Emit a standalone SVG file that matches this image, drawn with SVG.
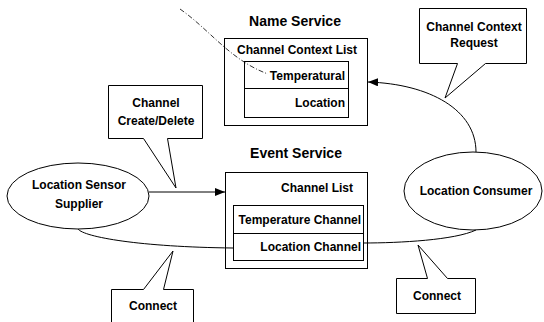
<svg xmlns="http://www.w3.org/2000/svg" width="544" height="322" viewBox="0 0 544 322">
  <style>
    .box { fill: none; stroke: #000; stroke-width: 1; }
    .shape { fill: #fff; stroke: #000; stroke-width: 1; }
    .wire { fill: none; stroke: #000; stroke-width: 1; }
    .dash { fill: none; stroke: #333; stroke-width: 1; stroke-dasharray: 5 2 1 2; }
    text { font-family: "Liberation Sans", Arial, sans-serif; font-weight: bold; font-size: 12px; fill: #000; }
    .title { font-size: 14px; }
    .mid { text-anchor: middle; }
    .end { text-anchor: end; }
  </style>
  <defs>
    <marker id="arrow" viewBox="0 0 10 8" refX="10" refY="4" markerWidth="10" markerHeight="8" markerUnits="userSpaceOnUse" orient="auto">
      <path d="M0,0 L10,4 L0,8 Z" fill="#000"/>
    </marker>
  </defs>

  <rect width="544" height="322" fill="#fff"/>

  <!-- connectors -->
  <g id="connectors">
    <path class="wire" d="M149 192 L225 192" marker-end="url(#arrow)"/>
    <path class="wire" d="M476 152 C476 110 430 84 368 82" marker-end="url(#arrow)"/>
    <path class="wire" d="M78 229 C84 237 140 247 233 248"/>
    <path class="wire" d="M363 243 C400 243 455 240 476 230"/>
    <path class="dash" d="M180 9 C210 30 230 60 268 74"/>
  </g>

  <!-- name service -->
  <g id="name-service">
    <text class="title mid" x="295" y="26">Name Service</text>
    <rect class="box" x="224.5" y="38.5" width="143" height="87"/>
    <text class="mid" x="297" y="54">Channel Context List</text>
    <rect class="box" x="244.5" y="61.5" width="104" height="56"/>
    <line class="box" x1="244.5" y1="88.5" x2="348.5" y2="88.5"/>
    <text class="end" x="345" y="80">Temperatural</text>
    <text class="end" x="345" y="107">Location</text>
  </g>

  <!-- event service -->
  <g id="event-service">
    <text class="title mid" x="296" y="158">Event Service</text>
    <rect class="box" x="225.5" y="172.5" width="142" height="96"/>
    <text class="end" x="353" y="192">Channel List</text>
    <rect class="box" x="233.5" y="205.5" width="130" height="55"/>
    <line class="box" x1="233.5" y1="233.5" x2="363.5" y2="233.5"/>
    <text class="end" x="361" y="224">Temperature Channel</text>
    <text class="end" x="361" y="251">Location Channel</text>
  </g>

  <!-- supplier -->
  <g id="supplier">
    <ellipse class="shape" cx="78" cy="196" rx="71" ry="33"/>
    <text class="mid" x="79" y="189">Location Sensor</text>
    <text class="mid" x="79" y="208">Supplier</text>
  </g>

  <!-- consumer -->
  <g id="consumer">
    <ellipse class="shape" cx="473" cy="191" rx="69" ry="39"/>
    <text class="mid" x="476" y="195">Location Consumer</text>
  </g>

  <!-- callouts -->
  <g id="callout-create">
    <path class="shape" d="M108.5 85.5 H202.5 V138.5 H167.5 L176 188 L143.5 138.5 H108.5 Z"/>
    <text class="mid" x="156" y="107">Channel</text>
    <text class="mid" x="156" y="125">Create/Delete</text>
  </g>

  <g id="callout-request">
    <path class="shape" d="M419.5 8.5 H526.5 V63.5 H485.5 L445 98 L457.5 63.5 H419.5 Z"/>
    <text class="mid" x="474" y="31">Channel Context</text>
    <text class="mid" x="474" y="47">Request</text>
  </g>

  <g id="callout-connect-left">
    <path class="shape" d="M111.5 324 V289.5 H143.5 L173 251 L163.5 289.5 H193.5 V324"/>
    <text class="mid" x="153" y="310">Connect</text>
  </g>

  <g id="callout-connect-right">
    <path class="shape" d="M396.5 278.5 H427.5 L418 245 L447.5 278.5 H475.5 V313.5 H396.5 Z"/>
    <text class="mid" x="437" y="300">Connect</text>
  </g>
</svg>
